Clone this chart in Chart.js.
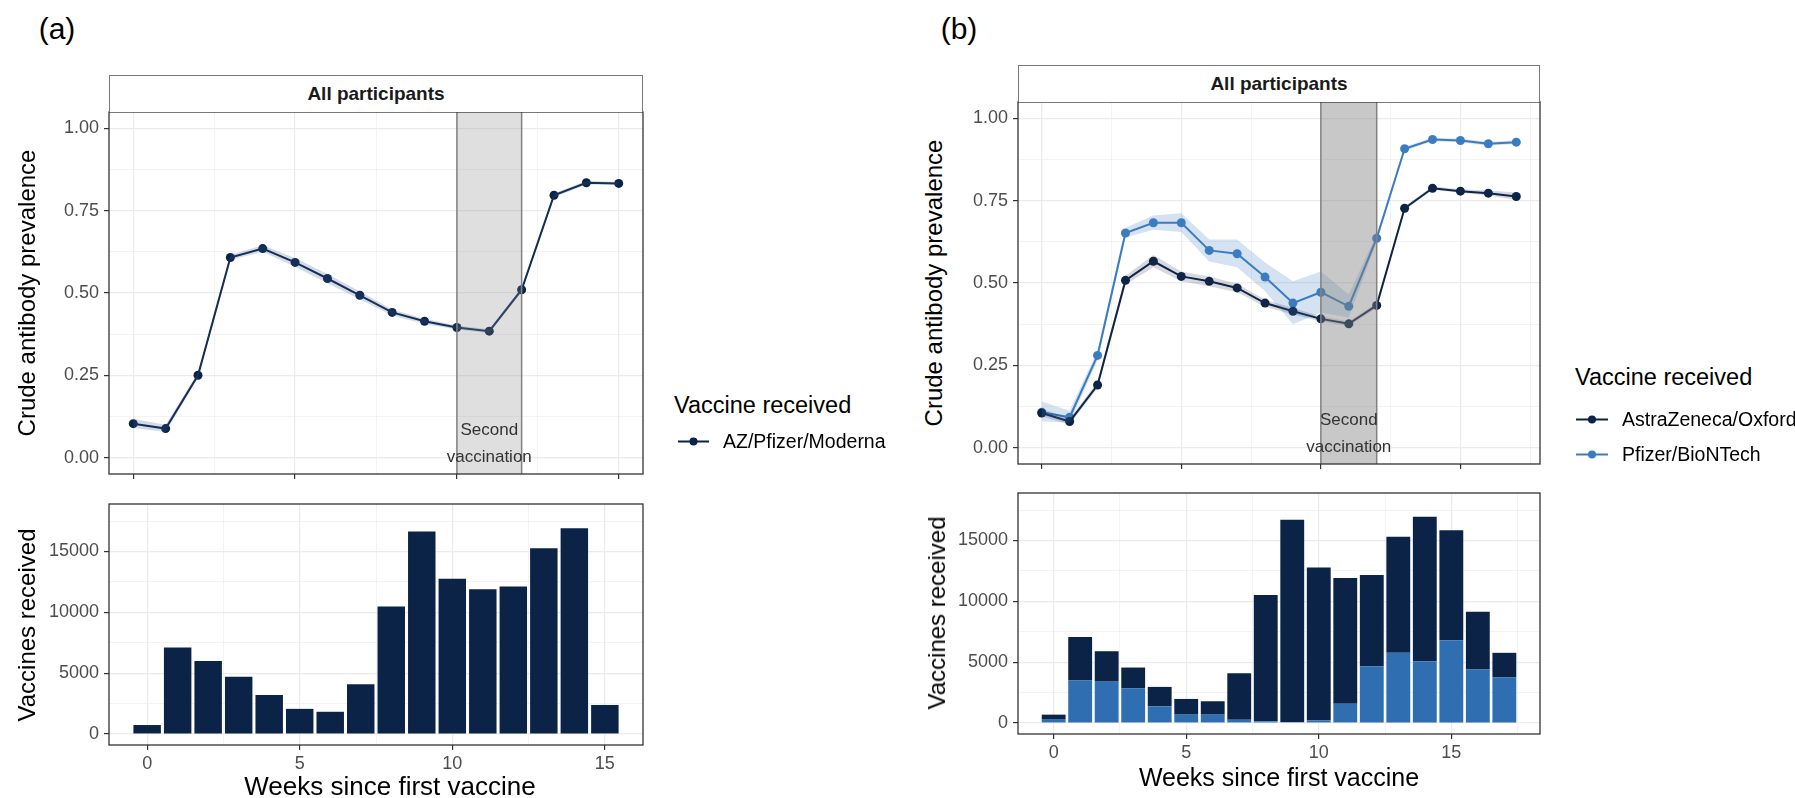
<!DOCTYPE html>
<html>
<head>
<meta charset="utf-8">
<title>Antibody prevalence by weeks since first vaccine</title>
<script src="https://cdn.jsdelivr.net/npm/chart.js@4.4.1/dist/chart.umd.min.js"></script>
<style>
  body { margin: 0; width: 1795px; height: 798px; background: #fff; position: relative; overflow: hidden;
         font-family: "Liberation Sans", Arial, sans-serif; color: #000; }
  canvas { position: absolute; }
  .tag { position: absolute; font-size: 30px; transform: translate(-50%, -50%); }
  .strip { position: absolute; box-sizing: border-box; border: 1px solid #7a7a7a; border-bottom: none; background: #fff;
           display: flex; align-items: center; justify-content: center; font-weight: bold; font-size: 19px; color: #1a1a1a; }
  .ytitle { position: absolute; font-size: 24px; white-space: nowrap; transform: translate(-50%, -50%) rotate(-90deg); }
  .xtitle { position: absolute; font-size: 25px; white-space: nowrap; transform: translate(-50%, -50%); }
  .band-label { position: absolute; font-size: 17px; color: #333; white-space: nowrap; transform: translate(-50%, -50%); }
  .legend-title { position: absolute; font-size: 23.5px; white-space: nowrap; transform: translateY(-50%); }
  .legend-item { position: absolute; font-size: 19.5px; white-space: nowrap; transform: translateY(-50%); display: flex; align-items: center; }
  .legend-item svg { margin-right: 14px; }
</style>
</head>
<body>

<div class="tag" style="left:57px;top:29px">(a)</div>
<div class="tag" style="left:959px;top:29px">(b)</div>

<canvas id="aTop" width="608" height="398" style="left:39px;top:92px"></canvas>
<canvas id="aBottom" width="608" height="295" style="left:39px;top:484px"></canvas>
<canvas id="bTop" width="596" height="398" style="left:948px;top:82px"></canvas>
<canvas id="bBottom" width="596" height="295" style="left:948px;top:473px"></canvas>

<div class="strip" style="left:109px;top:75px;width:534px;height:37px">All participants</div>
<div class="strip" style="left:1018px;top:65px;width:522px;height:37px">All participants</div>

<div class="ytitle" style="left:27px;top:293px">Crude antibody prevalence</div>
<div class="ytitle" style="left:27px;top:625px">Vaccines received</div>
<div class="ytitle" style="left:934px;top:283px">Crude antibody prevalence</div>
<div class="ytitle" style="left:937px;top:613px">Vaccines received</div>

<div class="xtitle" style="left:390px;top:786px;font-size:26px">Weeks since first vaccine</div>
<div class="xtitle" style="left:1279px;top:777px">Weeks since first vaccine</div>

<div class="band-label" id="aSecond">Second</div>
<div class="band-label" id="aVacc">vaccination</div>
<div class="band-label" id="bSecond">Second</div>
<div class="band-label" id="bVacc">vaccination</div>

<div class="legend-title" style="left:674px;top:405px">Vaccine received</div>
<div class="legend-item" style="left:678px;top:441px">
  <svg width="31" height="12"><line x1="0" y1="6" x2="31" y2="6" stroke="#0b2347" stroke-width="2"/><circle cx="15.5" cy="6" r="4" fill="#0b2347"/></svg>AZ/Pfizer/Moderna
</div>

<div class="legend-title" style="left:1575px;top:377px">Vaccine received</div>
<div class="legend-item" style="left:1576px;top:419px">
  <svg width="32" height="12"><line x1="0" y1="6" x2="32" y2="6" stroke="#0b2347" stroke-width="2"/><circle cx="16" cy="6" r="4" fill="#0b2347"/></svg>AstraZeneca/Oxford
</div>
<div class="legend-item" style="left:1576px;top:454px">
  <svg width="32" height="12"><line x1="0" y1="6" x2="32" y2="6" stroke="#3b7dc0" stroke-width="2"/><circle cx="16" cy="6" r="4" fill="#3b7dc0"/></svg>Pfizer/BioNTech
</div>

<script>
// panel (a): all vaccines combined
const weeksA = [0, 1, 2, 3, 4, 5, 6, 7, 8, 9, 10, 11, 12, 13, 14, 15];
const prevalenceA = [0.103, 0.088, 0.250, 0.608, 0.635, 0.593, 0.544, 0.493, 0.441, 0.414, 0.395, 0.384, 0.510, 0.797, 0.835, 0.833];
const prevalenceALower = [0.090, 0.078, 0.242, 0.600, 0.625, 0.580, 0.530, 0.481, 0.432, 0.406, 0.389, 0.378, 0.503, 0.791, 0.830, 0.828];
const prevalenceAUpper = [0.118, 0.100, 0.258, 0.616, 0.645, 0.606, 0.558, 0.505, 0.450, 0.422, 0.401, 0.390, 0.517, 0.803, 0.840, 0.838];
const vaccinesA = [740, 7120, 6000, 4700, 3200, 2070, 1830, 4100, 10480, 16650, 12750, 11900, 12120, 15260, 16900, 2390];

// panel (b): by vaccine type
const weeksB = [0, 1, 2, 3, 4, 5, 6, 7, 8, 9, 10, 11, 12, 13, 14, 15, 16, 17];
const prevalenceAZ = [0.105, 0.079, 0.190, 0.508, 0.566, 0.520, 0.505, 0.485, 0.439, 0.414, 0.391, 0.376, 0.432, 0.727, 0.788, 0.779, 0.773, 0.763];
const prevalenceAZLower = [0.095, 0.070, 0.180, 0.495, 0.548, 0.505, 0.490, 0.472, 0.428, 0.404, 0.383, 0.369, 0.425, 0.721, 0.783, 0.774, 0.766, 0.752];
const prevalenceAZUpper = [0.118, 0.088, 0.200, 0.522, 0.585, 0.535, 0.520, 0.498, 0.450, 0.424, 0.399, 0.383, 0.439, 0.733, 0.794, 0.785, 0.781, 0.775];
const prevalencePfizer = [0.107, 0.092, 0.280, 0.652, 0.683, 0.683, 0.599, 0.589, 0.518, 0.439, 0.472, 0.429, 0.636, 0.908, 0.936, 0.933, 0.923, 0.928];
const prevalencePfizerLower = [0.080, 0.075, 0.265, 0.638, 0.662, 0.655, 0.565, 0.548, 0.475, 0.375, 0.410, 0.395, 0.625, 0.902, 0.931, 0.928, 0.917, 0.922];
const prevalencePfizerUpper = [0.140, 0.112, 0.295, 0.668, 0.705, 0.712, 0.632, 0.632, 0.562, 0.505, 0.535, 0.465, 0.648, 0.914, 0.941, 0.938, 0.929, 0.934];
const vaccinesPfizer = [330, 3490, 3400, 2860, 1370, 690, 690, 275, 140, 80, 200, 1590, 4670, 5770, 5080, 6810, 4390, 3760];
const vaccinesAZ = [360, 3570, 2500, 1700, 1600, 1290, 1100, 3815, 10380, 16620, 12570, 10330, 7495, 9530, 11860, 9030, 4755, 2010];

// second vaccination window and its label heights
const secondDose = [10, 12];
const bandLabelY = [0.085, 0.003];

// ticks
const weekTicks = [0, 5, 10, 15];
const weekMinorTicks = [2.5, 7.5, 12.5, 17.5];
const prevalenceTicks = [0, 0.25, 0.5, 0.75, 1];
const prevalenceMinorTicks = [0.125, 0.375, 0.625, 0.875];
const countTicks = [0, 5000, 10000, 15000];
const countMinorTicks = [2500, 7500, 12500, 17500];

const NAVY = '#0b2347';
const BLUE = '#3b7dc0';
const BLUE_BAR = '#2f6eb0';
const FONT = '"Liberation Sans", Arial, sans-serif';

const xy = (xs, ys) => xs.map((x, i) => ({ x, y: ys[i] }));
const fmtPrev = (v) => v.toFixed(2);
const fmtInt = (v) => String(v);

function axis(range, major, minor, opts) {
  const all = major.concat(minor).sort((p, q) => p - q);
  const fmt = opts.fmt || fmtInt;
  return {
    type: 'linear',
    min: range[0],
    max: range[1],
    offset: false,
    afterBuildTicks: (s) => {
      s.ticks = all.filter((v) => v >= s.min && v <= s.max).map((v) => ({ value: v }));
    },
    afterFit: (s) => {
      if (s.isHorizontal()) s.height = opts.size;
      else s.width = opts.size;
    },
    border: { display: false },
    grid: {
      offset: false,
      color: '#ebebeb',
      lineWidth: (c) => (c.tick && major.includes(c.tick.value) ? 1.2 : 0.6),
      tickColor: (c) => (c.tick && major.includes(c.tick.value) ? '#333333' : 'rgba(0,0,0,0)'),
      tickLength: 5,
      drawTicks: true
    },
    ticks: {
      display: opts.labels,
      autoSkip: false,
      maxRotation: 0,
      padding: opts.labels ? opts.pad : 0,
      color: '#4d4d4d',
      font: { family: FONT, size: 18 },
      callback: (v) => (major.includes(v) ? fmt(v) : '')
    }
  };
}

const panelFrame = {
  id: 'panelFrame',
  afterDatasetsDraw(chart, args, opts) {
    if (!opts.band) return;
    const { ctx, chartArea: a, scales } = chart;
    const x0 = scales.x.getPixelForValue(secondDose[0]);
    const x1 = scales.x.getPixelForValue(secondDose[1]);
    ctx.save();
    ctx.fillStyle = opts.band;
    ctx.fillRect(x0, a.top, x1 - x0, a.bottom - a.top);
    ctx.strokeStyle = '#828282';
    ctx.lineWidth = 1.5;
    ctx.beginPath();
    ctx.moveTo(x0, a.top); ctx.lineTo(x0, a.bottom);
    ctx.moveTo(x1, a.top); ctx.lineTo(x1, a.bottom);
    ctx.stroke();
    ctx.restore();
  },
  afterDraw(chart) {
    const { ctx, chartArea: a } = chart;
    ctx.save();
    ctx.strokeStyle = '#333333';
    ctx.lineWidth = 1.3;
    ctx.strokeRect(a.left, a.top, a.right - a.left, a.bottom - a.top);
    ctx.restore();
  }
};

function ribbon(weeks, lower, upper, fillColor) {
  return [
    { data: xy(weeks, lower), borderWidth: 0, pointRadius: 0, fill: false },
    { data: xy(weeks, upper), borderWidth: 0, pointRadius: 0, fill: '-1', backgroundColor: fillColor }
  ];
}

function series(label, weeks, values, color) {
  return {
    label,
    data: xy(weeks, values),
    borderColor: color,
    backgroundColor: color,
    pointBackgroundColor: color,
    borderWidth: 2,
    pointRadius: 4.5,
    pointBorderWidth: 0,
    fill: false,
    tension: 0
  };
}

function baseOptions(xAxis, yAxis, layoutPad, frame) {
  return {
    responsive: false,
    animation: false,
    events: [],
    layout: { autoPadding: false, padding: layoutPad },
    plugins: { legend: { display: false }, tooltip: { enabled: false }, panelFrame: frame },
    scales: { x: xAxis, y: yAxis }
  };
}

function topPanel(id, range, datasets, bandColor) {
  return new Chart(document.getElementById(id), {
    type: 'line',
    data: { datasets },
    options: baseOptions(
      axis(range, weekTicks, weekMinorTicks, { size: 6, labels: false }),
      axis([-0.05, 1.05], prevalenceTicks, prevalenceMinorTicks, { size: 70, labels: true, pad: 5, fmt: fmtPrev }),
      { top: 20, right: 4, bottom: 10, left: 0 },
      { band: bandColor }
    ),
    plugins: [panelFrame]
  });
}

function bottomPanel(id, range, datasets, stacked) {
  const x = axis(range, weekTicks, weekMinorTicks, { size: 30, labels: true, pad: 3, fmt: fmtInt });
  const y = axis([-900, 18900], countTicks, countMinorTicks, { size: 70, labels: true, pad: 5, fmt: fmtInt });
  x.stacked = stacked;
  y.stacked = stacked;
  return new Chart(document.getElementById(id), {
    type: 'bar',
    data: { datasets },
    options: baseOptions(x, y, { top: 20, right: 4, bottom: 4, left: 0 }, {}),
    plugins: [panelFrame]
  });
}

function placeBandLabels(chart, ids) {
  const canvas = chart.canvas;
  const left = parseFloat(canvas.style.left);
  const top = parseFloat(canvas.style.top);
  const cx = chart.scales.x.getPixelForValue((secondDose[0] + secondDose[1]) / 2) + left;
  ids.forEach((id, i) => {
    const el = document.getElementById(id);
    el.style.left = cx + 'px';
    el.style.top = (chart.scales.y.getPixelForValue(bandLabelY[i]) + top) + 'px';
  });
}

const aTop = topPanel('aTop', [-0.75, 15.75], [
  ...ribbon(weeksA, prevalenceALower, prevalenceAUpper, 'rgba(60, 90, 150, 0.22)'),
  series('AZ/Pfizer/Moderna', weeksA, prevalenceA, NAVY)
], 'rgba(128, 128, 128, 0.25)');

const bTop = topPanel('bTop', [-0.85, 17.85], [
  ...ribbon(weeksB, prevalenceAZLower, prevalenceAZUpper, 'rgba(40, 45, 70, 0.18)'),
  ...ribbon(weeksB, prevalencePfizerLower, prevalencePfizerUpper, 'rgba(59, 125, 192, 0.22)'),
  series('AstraZeneca/Oxford', weeksB, prevalenceAZ, NAVY),
  series('Pfizer/BioNTech', weeksB, prevalencePfizer, BLUE)
], 'rgba(128, 128, 128, 0.43)');

bottomPanel('aBottom', [-1.25, 16.25], [
  { label: 'AZ/Pfizer/Moderna', data: xy(weeksA, vaccinesA), backgroundColor: NAVY, barPercentage: 0.9, categoryPercentage: 1 }
], false);

bottomPanel('bBottom', [-1.345, 18.345], [
  { label: 'Pfizer/BioNTech', data: xy(weeksB, vaccinesPfizer), backgroundColor: BLUE_BAR, barPercentage: 0.9, categoryPercentage: 1 },
  { label: 'AstraZeneca/Oxford', data: xy(weeksB, vaccinesAZ), backgroundColor: NAVY, barPercentage: 0.9, categoryPercentage: 1 }
], true);

placeBandLabels(aTop, ['aSecond', 'aVacc']);
placeBandLabels(bTop, ['bSecond', 'bVacc']);
</script>
</body>
</html>
